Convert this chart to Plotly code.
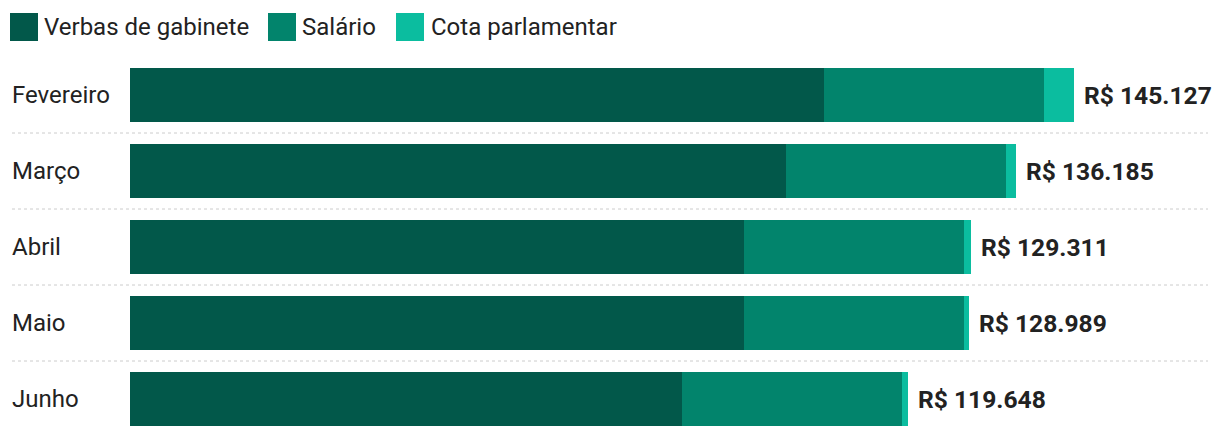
import plotly.graph_objects as go

months = ["Fevereiro", "Março", "Abril", "Maio", "Junho"]
verbas = [106750, 100850, 94450, 94450, 84900]
salario = [33763, 33763, 33763, 33763, 33763]
totals = [145127, 136185, 129311, 128989, 119648]
cota = [t - v - s for t, v, s in zip(totals, verbas, salario)]
total_labels = ["R$ 145.127", "R$ 136.185", "R$ 129.311", "R$ 128.989", "R$ 119.648"]

series_names = ["Verbas de gabinete", "Salário", "Cota parlamentar"]
colors = ["#02584a", "#02846c", "#0bbd9f"]

W = 1220; H = 438
ml, mr, mt, mb = 130, 10, 57, 1
pw = W - ml - mr
ph = H - mt - mb
px_per_unit = 944 / 145127
xmax = pw / px_per_unit

fig = go.Figure()
for name, vals, col in zip(series_names, [verbas, salario, cota], colors):
    fig.add_trace(go.Bar(y=months, x=vals, orientation="h", name=name,
                         marker=dict(color=col, line=dict(width=0)),
                         width=54 / 76, showlegend=False))

font = "Roboto, sans-serif"
FS = 24
ann = []
shapes = []
for m, t, lab in zip(months, totals, total_labels):
    ann.append(dict(x=t, y=m, xref="x", yref="y", text=lab, showarrow=False,
                    xanchor="left", xshift=8, font=dict(family=font, size=24.6, color="#222222", weight="bold")))
    ann.append(dict(x=(12 - ml) / pw, y=m, xref="paper", yref="y", text=m, showarrow=False,
                    xanchor="left", xshift=-2, font=dict(family=font, size=FS, color="#222222")))

for i in range(len(months) - 1):
    shapes.append(dict(type="line", xref="paper", yref="y", x0=(12 - ml) / pw, x1=(1208 - ml) / pw,
                       y0=i + 0.5, y1=i + 0.5, line=dict(color="#cccccc", width=1, dash="dot")))

def py(ypx):
    return (H - mb - ypx) / ph

def pxx(xpx):
    return (xpx - ml) / pw

leg = [(10, 44, series_names[0]), (268, 302, series_names[1]), (396, 431, series_names[2])]
for (sx, tx, name), col in zip(leg, colors):
    shapes.append(dict(type="rect", xref="paper", yref="paper", x0=pxx(sx), x1=pxx(sx + 28),
                       y0=py(41), y1=py(13), fillcolor=col, line=dict(width=0)))
    ann.append(dict(x=pxx(tx), y=py(27), xref="paper", yref="paper", text=name, showarrow=False,
                    xanchor="left", yanchor="middle", xshift=-2,
                    font=dict(family=font, size=FS, color="#222222")))

fig.update_layout(
    barmode="stack", width=W, height=H,
    margin=dict(l=ml, r=mr, t=mt, b=mb),
    paper_bgcolor="white", plot_bgcolor="white",
    xaxis=dict(range=[0, xmax], visible=False, fixedrange=True),
    yaxis=dict(categoryorder="array", categoryarray=months, autorange="reversed",
               showticklabels=False, showgrid=False, zeroline=False, fixedrange=True),
    annotations=ann, shapes=shapes, showlegend=False,
)
fig.write_html("out.html", config={"displayModeBar": False})
